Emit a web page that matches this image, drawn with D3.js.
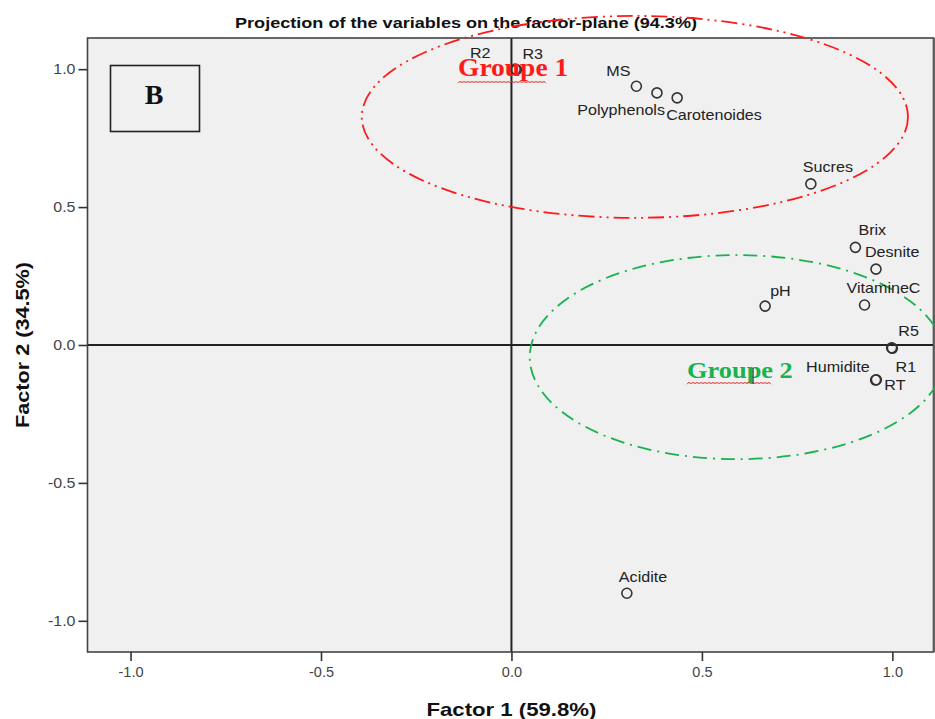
<!DOCTYPE html>
<html>
<head>
<meta charset="utf-8">
<script src="https://cdn.jsdelivr.net/npm/d3@7"></script>
<style>
  body { margin: 0; background: #fff; }
  svg { display: block; font-family: Arial, "Liberation Sans", sans-serif; }
</style>
</head>
<body>
<svg id="chart" width="935" height="719"></svg>
<script>
// Variable loadings on the first two factors
const variables = ["R2", "R3", "MS", "Polyphenols", "Carotenoides", "Sucres", "Brix", "Desnite",
                   "VitamineC", "pH", "R5", "R1", "Humidite", "RT", "Acidite"];
const factor1 = [0.010, 0.013, 0.328, 0.382, 0.435, 0.786, 0.903, 0.957,
                 0.927, 0.666, 1.000, 0.998, 0.956, 0.958, 0.303];
const factor2 = [1.000, 0.998, 0.938, 0.914, 0.896, 0.584, 0.354, 0.275,
                 0.145, 0.141, -0.012, -0.010, -0.127, -0.126, -0.900];
const tickValues = [-1.0, -0.5, 0.0, 0.5, 1.0];

// Groups circled on the plane (centre and half-axes in factor units)
const groupNames = ["Groupe 1", "Groupe 2"];
const groupCenterX = [0.324, 0.592];
const groupCenterY = [0.827, -0.044];
const groupRadiusX = [0.717, 0.544];
const groupRadiusY = [0.366, 0.370];

const svg = d3.select("#chart");
const plot = { left: 87.5, right: 933.5, top: 38, bottom: 652 };

const x = d3.scaleLinear().domain([-1.113, 1.108]).range([plot.left, plot.right]);
const y = d3.scaleLinear().domain([-1.113, 1.113]).range([plot.bottom, plot.top]);

// plot background
svg.append("rect")
  .attr("x", plot.left).attr("y", plot.top)
  .attr("width", plot.right - plot.left).attr("height", plot.bottom - plot.top)
  .attr("fill", "#f0f0f0");

// reference lines through the origin
svg.append("line")
  .attr("x1", x(0)).attr("x2", x(0)).attr("y1", plot.top).attr("y2", plot.bottom)
  .attr("stroke", "#222").attr("stroke-width", 2);
svg.append("line")
  .attr("x1", plot.left).attr("x2", plot.right).attr("y1", y(0)).attr("y2", y(0))
  .attr("stroke", "#222").attr("stroke-width", 2);

// frame
svg.append("rect")
  .attr("x", plot.left).attr("y", plot.top)
  .attr("width", plot.right - plot.left).attr("height", plot.bottom - plot.top)
  .attr("fill", "none").attr("stroke", "#444").attr("stroke-width", 1.6);
svg.append("line")
  .attr("x1", 934.2).attr("x2", 934.2).attr("y1", plot.top).attr("y2", plot.bottom)
  .attr("stroke", "#666").attr("stroke-width", 1.6);

// axes
const tickFmt = d => d.toFixed(1);
const yAxis = svg.append("g")
  .attr("transform", `translate(${plot.left},0)`)
  .call(d3.axisLeft(y).tickValues(tickValues).tickFormat(tickFmt).tickSize(9).tickPadding(3));
yAxis.select(".domain").remove();
yAxis.selectAll(".tick line").attr("stroke", "#333").attr("stroke-width", 1.6);
yAxis.selectAll(".tick text")
  .attr("font-size", 14.5).attr("fill", "#444")
  .attr("font-family", "Arial, 'Liberation Sans', sans-serif")
  .each(function () {
    const t = d3.select(this);
    const tx = +t.attr("x");
    t.attr("transform", `translate(${tx},0) scale(1.1,1)`).attr("x", 0);
  });

const xAxis = svg.append("g")
  .attr("transform", `translate(0,${plot.bottom})`)
  .call(d3.axisBottom(x).tickValues(tickValues).tickFormat(tickFmt).tickSize(9).tickPadding(6));
xAxis.select(".domain").remove();
xAxis.selectAll(".tick line").attr("stroke", "#333").attr("stroke-width", 1.6);
xAxis.selectAll(".tick text")
  .attr("font-size", 14.5).attr("fill", "#444")
  .attr("font-family", "Arial, 'Liberation Sans', sans-serif");

// titles
svg.append("text")
  .attr("x", 466).attr("y", 28)
  .attr("text-anchor", "middle")
  .attr("font-size", 15).attr("font-weight", "bold").attr("fill", "#111")
  .attr("textLength", 462).attr("lengthAdjust", "spacingAndGlyphs")
  .text("Projection of the variables on the factor-plane (94.3%)");

svg.append("text")
  .attr("x", x(0)).attr("y", 716)
  .attr("text-anchor", "middle")
  .attr("font-size", 19).attr("font-weight", "bold").attr("fill", "#111")
  .attr("textLength", 170).attr("lengthAdjust", "spacingAndGlyphs")
  .text("Factor 1 (59.8%)");

svg.append("text")
  .attr("transform", `translate(29,${y(0)}) rotate(-90)`)
  .attr("text-anchor", "middle")
  .attr("font-size", 19).attr("font-weight", "bold").attr("fill", "#111")
  .attr("textLength", 166).attr("lengthAdjust", "spacingAndGlyphs")
  .text("Factor 2 (34.5%)");

// group ellipses
const groupColors = ["#ff1a1a", "#19b24f"];
const groupDash = ["16,5,2,5,2,5", "14,6,2,6"];
groupNames.forEach((g, i) => {
  const cx = x(groupCenterX[i]), cy = y(groupCenterY[i]);
  const rx = x(groupCenterX[i] + groupRadiusX[i]) - cx;
  const ry = cy - y(groupCenterY[i] + groupRadiusY[i]);
  svg.append("ellipse")
    .attr("cx", cx).attr("cy", cy).attr("rx", rx).attr("ry", ry)
    .attr("fill", "none").attr("stroke", groupColors[i])
    .attr("stroke-width", 1.8).attr("stroke-dasharray", groupDash[i]);
});

// variable points
const pts = variables.map((v, i) => ({ name: v, fx: factor1[i], fy: factor2[i] }));
svg.append("g").selectAll("circle").data(pts).join("circle")
  .attr("cx", d => x(d.fx)).attr("cy", d => y(d.fy)).attr("r", 5)
  .attr("fill", "none").attr("stroke", "#333").attr("stroke-width", 1.6);

// label placement around each point
const labelLayout = {
  R2: [-35, -11, "middle"], R3: [6, -11, "start"], MS: [-6, -10, "end"],
  Polyphenols: [8, 22, "end"], Carotenoides: [-11, 22, "start"], Sucres: [-8, -12, "start"],
  Brix: [3, -12, "start"], Desnite: [-11, -12, "start"], VitamineC: [-18, -12, "start"],
  pH: [5, -10, "start"], R5: [6, -12, "start"], R1: [4, 24, "start"],
  Humidite: [-6, -8, "end"], RT: [8, 10, "start"], Acidite: [-8, -11, "start"]
};
svg.append("g").selectAll("text").data(pts).join("text")
  .attr("transform", d => {
    const o = labelLayout[d.name];
    return `translate(${x(d.fx) + o[0]},${y(d.fy) + o[1]}) scale(1.15,1)`;
  })
  .attr("text-anchor", d => labelLayout[d.name][2])
  .attr("font-size", 14).attr("fill", "#222")
  .text(d => d.name);

// group captions with wavy underline
const captionPos = [[458, 76, 546, 82], [687, 378, 772, 383]];
const captionFont = [25, 24];
const wave = d3.line().curve(d3.curveBasis);
groupNames.forEach((g, i) => {
  const [tx, ty, ux, uy] = captionPos[i];
  svg.append("text")
    .attr("transform", `translate(${tx},${ty}) scale(1.1,1)`)
    .attr("font-family", "'Liberation Serif', 'Times New Roman', serif")
    .attr("font-size", captionFont[i]).attr("font-weight", "bold")
    .attr("fill", groupColors[i])
    .text(g);
  const pts2 = d3.range(tx, ux + 0.1, 2).map((px, k) => [px, uy + (k % 2 ? -1.2 : 1.2)]);
  svg.append("path").attr("d", wave(pts2))
    .attr("fill", "none").attr("stroke", "#e03030").attr("stroke-width", 1);
});
svg.append("line")
  .attr("x1", 753).attr("x2", 753).attr("y1", 368).attr("y2", 384)
  .attr("stroke", "#1a6b35").attr("stroke-width", 1.5);

// panel tag
svg.append("rect")
  .attr("x", 110.5).attr("y", 65.5).attr("width", 89).attr("height", 66)
  .attr("fill", "none").attr("stroke", "#222").attr("stroke-width", 1.6);
svg.append("text")
  .attr("x", 154).attr("y", 104).attr("text-anchor", "middle")
  .attr("font-family", "'Liberation Serif', 'Times New Roman', serif")
  .attr("font-size", 28).attr("font-weight", "bold").attr("fill", "#111")
  .text("B");
</script>
</body>
</html>
